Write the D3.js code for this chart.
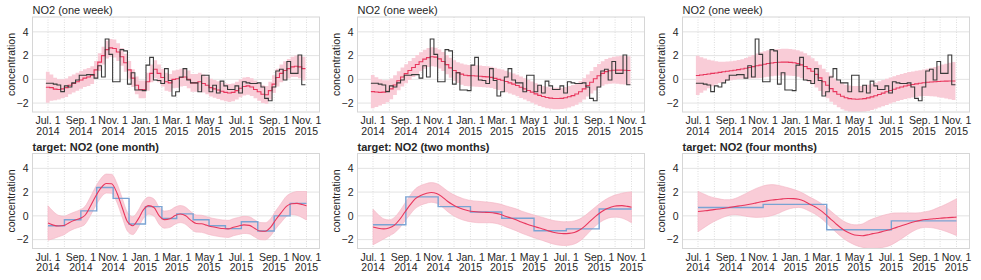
<!DOCTYPE html>
<html>
<head>
<meta charset="utf-8">
<script src="https://cdn.jsdelivr.net/npm/d3@7"></script>
<style>
  body { margin: 0; background: #fff; }
  svg { font-family: "Liberation Sans", Arial, sans-serif; display: block; }
</style>
</head>
<body>
<svg width="981" height="280"></svg>
<script>
const WIDTH = 981, HEIGHT = 280

// weekly observations (step plot, top row)
const weekStart = new Date(2014, 5, 27)
const weeklyNO2 = [
  -0.33, -0.33, -0.4, -0.47, -1.03, -0.55, -0.65, -0.3, -0.05, 0.35,
  0.35, 0.4, 0.4, 0.1, 1.15, 0.2, 3.4, 2.1, -0.2, -0.2,
  2.5, 2.4, -0.4, 0.55, -0.9, -0.9, -0.95, 1.2, 1.85, -0.05,
  -0.1, -0.35, 0.9, -0.1, -1.4, -1.05, 0.2, 0.9, -0.05, -0.3,
  -0.3, -1.05, 0.35, 0.35, -1.05, -0.5, -1.15, -0.15, -0.55, -0.85,
  -0.85, -0.55, -1.15, -0.2, -0.3, -0.35, -0.35, -0.3, -0.65, -1.6,
  -1.8, -0.65, 0.7, 0.85, -0.05, 1.5, 0.5, 0.5, 2.05, -0.45
]

// weekly model means and band half-widths (three length scales)
const weekFitShort = [
  -0.67, -0.7, -0.82, -0.85, -0.8, -0.7, -0.5, -0.35, -0.2, -0.05,
  0.1, 0.2, 0.35, 0.8, 1.45, 2.0, 2.5, 2.65, 2.6, 2.3,
  1.9, 1.4, 0.8, 0.1, -0.5, -0.85, -0.85, -0.2, 0.5, 0.85,
  0.5, 0.15, -0.2, -0.3, 0.0, 0.05, 0.15, 0.2, 0.0, -0.3,
  -0.3, -0.2, -0.35, -0.5, -0.7, -0.8, -0.9, -1.0, -1.1, -1.15,
  -1.1, -0.95, -0.75, -0.6, -0.55, -0.65, -0.85, -1.05, -1.25, -1.3,
  -0.95, -0.4, 0.15, 0.5, 0.75, 0.9, 1.05, 1.1, 1.05, 0.9
]
const weekBandShort = [
  1.3, 1.1, 0.95, 0.85, 0.8, 0.78, 0.76, 0.75, 0.75, 0.75,
  0.75, 0.75, 0.75, 0.75, 0.75, 0.75, 0.75, 0.75, 0.75, 0.75,
  0.75, 0.75, 0.75, 0.75, 0.75, 0.75, 0.75, 0.75, 0.75, 0.75,
  0.75, 0.75, 0.75, 0.75, 0.75, 0.75, 0.75, 0.75, 0.75, 0.75,
  0.75, 0.75, 0.75, 0.75, 0.75, 0.75, 0.75, 0.75, 0.75, 0.75,
  0.75, 0.75, 0.75, 0.75, 0.75, 0.75, 0.75, 0.75, 0.75, 0.75,
  0.75, 0.75, 0.75, 0.75, 0.78, 0.82, 0.86, 0.9, 0.95, 1.0
]
const weekFitMid = [
  -1.03, -1.07, -1.1, -1.08, -1.0, -0.8, -0.48, -0.12, 0.2, 0.48,
  0.75, 1.0, 1.25, 1.48, 1.7, 1.83, 1.9, 1.87, 1.72, 1.5,
  1.24, 0.97, 0.74, 0.57, 0.44, 0.35, 0.31, 0.3, 0.28, 0.26,
  0.23, 0.21, 0.17, 0.08, 0.0, -0.08, -0.18, -0.3, -0.4, -0.52,
  -0.67, -0.8, -0.94, -1.08, -1.22, -1.35, -1.45, -1.53, -1.58, -1.61,
  -1.61, -1.6, -1.55, -1.47, -1.37, -1.24, -1.05, -0.8, -0.52, -0.25,
  0.05, 0.3, 0.5, 0.65, 0.72, 0.77, 0.78, 0.78, 0.76, 0.75
]
const weekBandMid = [
  1.4, 1.25, 1.1, 1.0, 0.92, 0.87, 0.83, 0.8, 0.8, 0.8,
  0.8, 0.8, 0.8, 0.8, 0.8, 0.8, 0.8, 0.8, 0.8, 0.8,
  0.82, 0.84, 0.86, 0.88, 0.9, 0.9, 0.9, 0.9, 0.9, 0.9,
  0.9, 0.9, 0.9, 0.9, 0.9, 0.9, 0.9, 0.9, 0.9, 0.9,
  0.9, 0.9, 0.9, 0.9, 0.9, 0.9, 0.9, 0.9, 0.9, 0.9,
  0.9, 0.9, 0.9, 0.9, 0.9, 0.9, 0.9, 0.9, 0.92, 0.95,
  0.98, 1.0, 1.03, 1.06, 1.1, 1.13, 1.16, 1.2, 1.2, 1.2
]
const weekFitLong = [
  0.33, 0.37, 0.41, 0.45, 0.5, 0.54, 0.59, 0.64, 0.68, 0.72,
  0.77, 0.82, 0.87, 0.93, 1.0, 1.07, 1.14, 1.2, 1.27, 1.33,
  1.38, 1.42, 1.44, 1.45, 1.45, 1.43, 1.4, 1.33, 1.22, 1.08,
  0.9, 0.68, 0.42, 0.12, -0.2, -0.5, -0.78, -1.03, -1.25, -1.42,
  -1.55, -1.62, -1.66, -1.67, -1.66, -1.62, -1.56, -1.48, -1.38, -1.27,
  -1.16, -1.05, -0.94, -0.83, -0.73, -0.64, -0.56, -0.49, -0.43, -0.38,
  -0.33, -0.29, -0.25, -0.22, -0.2, -0.18, -0.16, -0.15, -0.14, -0.14
]
const weekBandLong = [
  1.65, 1.5, 1.35, 1.2, 1.08, 0.98, 0.9, 0.85, 0.82, 0.8,
  0.8, 0.8, 0.82, 0.86, 0.92, 0.98, 1.04, 1.08, 1.1, 1.12,
  1.12, 1.12, 1.12, 1.12, 1.12, 1.12, 1.12, 1.12, 1.12, 1.12,
  1.1, 1.1, 1.1, 1.1, 1.1, 1.1, 1.1, 1.1, 1.1, 1.1,
  1.1, 1.1, 1.1, 1.1, 1.1, 1.1, 1.1, 1.1, 1.1, 1.1,
  1.1, 1.1, 1.1, 1.1, 1.1, 1.1, 1.1, 1.1, 1.1, 1.1,
  1.1, 1.12, 1.15, 1.2, 1.25, 1.32, 1.4, 1.47, 1.54, 1.6
]

// aggregated targets (bottom row), starting Jul. 1 2014
const targetStart = new Date(2014, 6, 1)
const monthlyNO2 = [-0.83, -0.33, 0.42, 2.39, 1.47, -0.69, 0.78, -0.22, 0.17, -0.33, -0.83, -1.08, -0.5, -1.28, 0.0, 1.05]
const twoMonthNO2 = [-0.75, 1.6, 0.78, 0.33, -0.2, -1.25, -1.1, 0.58]
const fourMonthNO2 = [0.7, 0.97, -1.17, -0.42]

// smooth fits, read every 10 days from Jul. 1 2014 (last point Nov. 1 2015)
const fitOneMonth = [
  -0.6, -0.78, -0.86, -0.82, -0.58, -0.38, -0.22, 0.05, 0.8, 1.65,
  2.35, 2.72, 2.7, 1.95, 0.7, -0.5, -0.83, -0.3, 0.5, 0.86,
  0.7, 0.0, -0.32, -0.25, 0.02, 0.15, 0.0, -0.38, -0.65, -0.67,
  -0.8, -0.92, -1.0, -1.07, -1.1, -0.96, -0.85, -0.76, -0.8, -1.05,
  -1.28, -1.3, -0.98, -0.33, 0.25, 0.8, 1.02, 1.05, 0.95, 0.85
]
const bandOneMonth = [
  1.45, 1.15, 0.9, 0.78, 0.72, 0.7, 0.72, 0.75, 0.78, 0.8,
  0.8, 0.8, 0.8, 0.8, 0.8, 0.78, 0.75, 0.72, 0.72, 0.72,
  0.72, 0.72, 0.72, 0.72, 0.72, 0.72, 0.72, 0.72, 0.72, 0.72,
  0.72, 0.72, 0.72, 0.72, 0.72, 0.72, 0.72, 0.72, 0.72, 0.72,
  0.72, 0.72, 0.72, 0.75, 0.8, 0.85, 0.9, 1.0, 1.1, 1.2
]
const fitTwoMonths = [
  -0.94, -1.05, -1.1, -1.02, -0.8, -0.33, 0.3, 0.92, 1.45, 1.72,
  1.88, 1.97, 1.89, 1.62, 1.25, 0.95, 0.72, 0.55, 0.43, 0.36,
  0.32, 0.3, 0.28, 0.23, 0.13, -0.03, -0.18, -0.33, -0.52, -0.68,
  -0.83, -0.97, -1.1, -1.25, -1.38, -1.46, -1.5, -1.48, -1.4, -1.2,
  -0.87, -0.45, -0.05, 0.3, 0.57, 0.75, 0.84, 0.86, 0.8, 0.72
]
const bandTwoMonths = [
  1.5, 1.15, 0.85, 0.68, 0.65, 0.7, 0.75, 0.8, 0.82, 0.83,
  0.83, 0.83, 0.83, 0.84, 0.86, 0.88, 0.9, 0.9, 0.9, 0.9,
  0.9, 0.88, 0.86, 0.85, 0.86, 0.88, 0.9, 0.92, 0.93, 0.94,
  0.95, 0.96, 0.97, 0.98, 0.99, 1.0, 1.0, 0.99, 0.97, 0.93,
  0.88, 0.83, 0.8, 0.8, 0.83, 0.88, 0.95, 1.05, 1.18, 1.3
]
const fitFourMonths = [
  0.36, 0.41, 0.46, 0.52, 0.58, 0.64, 0.71, 0.78, 0.85, 0.92,
  1.0, 1.09, 1.18, 1.26, 1.33, 1.38, 1.43, 1.46, 1.45, 1.39,
  1.24, 1.0, 0.78, 0.5, 0.15, -0.25, -0.65, -1.02, -1.32, -1.52,
  -1.64, -1.67, -1.6, -1.5, -1.42, -1.3, -1.19, -1.04, -0.9, -0.75,
  -0.6, -0.48, -0.38, -0.31, -0.27, -0.22, -0.19, -0.16, -0.13, -0.11
]
const bandFourMonths = [
  1.7, 1.45, 1.2, 1.0, 0.85, 0.72, 0.65, 0.68, 0.8, 0.95,
  1.1, 1.22, 1.3, 1.33, 1.3, 1.2, 1.05, 0.9, 0.78, 0.68,
  0.62, 0.6, 0.6, 0.62, 0.65, 0.68, 0.7, 0.72, 0.75, 0.8,
  0.88, 0.98, 1.15, 1.25, 1.32, 1.35, 1.35, 1.28, 1.15, 1.0,
  0.85, 0.72, 0.65, 0.66, 0.72, 0.85, 1.0, 1.18, 1.38, 1.55
]
const fitDays = [
  0, 10, 20, 30, 40, 50, 60, 70, 80, 90, 100, 110, 120, 130, 140, 150, 160,
  170, 180, 190, 200, 210, 220, 230, 240, 250, 260, 270, 280, 290, 300, 310,
  320, 330, 340, 350, 360, 370, 380, 390, 400, 410, 420, 430, 440, 450, 460,
  470, 480, 488
]

// axis labels
const tickMonths = ['Jul. 1', 'Sep. 1', 'Nov. 1', 'Jan. 1', 'Mar. 1', 'May 1', 'Jul. 1', 'Sep. 1', 'Nov. 1']
const tickYears = ['2014', '2014', '2014', '2015', '2015', '2015', '2015', '2015', '2015']
const yTicks = [-2, 0, 2, 4]

const PLOT_W = 287, PLOT_H = 95
const colX = [32.5, 357.5, 682.5]
const rowY = [17, 153.5]
const RED = '#e8365d', PINK = '#f9ccd7', TEXT = '#262626'

const svg = d3.select('svg')
  .attr('viewBox', `0 0 ${WIDTH} ${HEIGHT}`)

const x = d3.scaleTime()
  .domain([new Date(2014, 6, 1), new Date(2015, 10, 1)])
  .range([15.5, 274])
const y = d3.scaleLinear()
  .domain([-2.75, 5.25])
  .range([PLOT_H, 0])

const tickDates = d3.timeMonth.every(2).range(new Date(2014, 6, 1), new Date(2015, 10, 2))
const gridDates = d3.timeMonth.range(new Date(2014, 6, 1), new Date(2015, 10, 2))

const weekDates = d3.range(weeklyNO2.length + 1).map(i => d3.timeDay.offset(weekStart, 7 * i))
const fitDates = fitDays.map(d => d3.timeDay.offset(targetStart, d))

// step series carry one extra point so the last value gets its own segment
const asStep = (dates, vals) => vals.map((v, i) => ({ date: dates[i], v }))
  .concat([{ date: dates[vals.length], v: vals[vals.length - 1] }])
const asBand = (dates, vals, half) => vals.map((v, i) => ({ date: dates[i], v, lo: v - half[i], hi: v + half[i] }))

const monthSteps = (vals, n) => asStep(d3.range(vals.length + 1).map(i => d3.timeMonth.offset(targetStart, n * i)), vals)

const weeklyStep = asStep(weekDates, weeklyNO2)
const weekBand = (fit, half) => asStep(weekDates, fit).map((d, i) => {
  const h = half[Math.min(i, half.length - 1)]
  return { date: d.date, v: d.v, lo: d.v - h, hi: d.v + h }
})

const panels = [
  { col: 0, row: 0, title: 'NO2 (one week)', obs: weeklyStep, obsColor: '#3a3a3a', fit: weekBand(weekFitShort, weekBandShort), stepFit: true },
  { col: 1, row: 0, title: 'NO2 (one week)', obs: weeklyStep, obsColor: '#3a3a3a', fit: weekBand(weekFitMid, weekBandMid), stepFit: true },
  { col: 2, row: 0, title: 'NO2 (one week)', obs: weeklyStep, obsColor: '#3a3a3a', fit: weekBand(weekFitLong, weekBandLong), stepFit: true },
  { col: 0, row: 1, title: 'target: NO2 (one month)', bold: true, obs: monthSteps(monthlyNO2, 1), obsColor: '#7aa3d3', fit: asBand(fitDates, fitOneMonth, bandOneMonth) },
  { col: 1, row: 1, title: 'target: NO2 (two months)', bold: true, obs: monthSteps(twoMonthNO2, 2), obsColor: '#7aa3d3', fit: asBand(fitDates, fitTwoMonths, bandTwoMonths) },
  { col: 2, row: 1, title: 'target: NO2 (four months)', bold: true, obs: monthSteps(fourMonthNO2, 4), obsColor: '#7aa3d3', fit: asBand(fitDates, fitFourMonths, bandFourMonths) }
]

svg.append('defs').append('clipPath')
  .attr('id', 'plot-clip')
  .append('rect')
  .attr('width', PLOT_W)
  .attr('height', PLOT_H)

panels.forEach(p => {
  const g = svg.append('g')
    .attr('transform', `translate(${colX[p.col]},${rowY[p.row]})`)

  g.append('rect')
    .attr('width', PLOT_W)
    .attr('height', PLOT_H)
    .attr('fill', '#fff')

  g.selectAll('.vgrid')
    .data(gridDates)
    .enter()
    .append('line')
    .attr('x1', d => x(d))
    .attr('x2', d => x(d))
    .attr('y1', 0)
    .attr('y2', PLOT_H)
    .attr('stroke', '#d4d4d4')
    .attr('stroke-width', 0.8)
    .attr('stroke-dasharray', '1,1.5')

  g.selectAll('.hgrid')
    .data(yTicks)
    .enter()
    .append('line')
    .attr('x1', 0)
    .attr('x2', PLOT_W)
    .attr('y1', d => y(d))
    .attr('y2', d => y(d))
    .attr('stroke', '#e0e0e0')
    .attr('stroke-width', 0.9)

  const curve = p.stepFit ? d3.curveStepAfter : d3.curveMonotoneX
  const inner = g.append('g').attr('clip-path', 'url(#plot-clip)')

  inner.append('path')
    .datum(p.fit)
    .attr('fill', PINK)
    .attr('stroke', p.stepFit ? 'none' : '#f3b3c3')
    .attr('stroke-width', 0.6)
    .attr('d', d3.area()
      .curve(curve)
      .x(d => x(d.date))
      .y0(d => y(d.lo))
      .y1(d => y(d.hi)))

  const obsLine = inner.append('path')
    .datum(p.obs)
    .attr('fill', 'none')
    .attr('stroke', p.obsColor)
    .attr('stroke-width', p.row === 0 ? 1.1 : 1.4)
    .attr('d', d3.line()
      .curve(d3.curveStepAfter)
      .x(d => x(d.date))
      .y(d => y(d.v)))

  inner.append('path')
    .datum(p.fit)
    .attr('fill', 'none')
    .attr('stroke', RED)
    .attr('stroke-width', 1.1)
    .attr('d', d3.line()
      .curve(curve)
      .x(d => x(d.date))
      .y(d => y(d.v)))

  // observed weekly line sits above the fit in the top row
  if (p.row === 0) obsLine.raise()

  g.append('rect')
    .attr('width', PLOT_W)
    .attr('height', PLOT_H)
    .attr('fill', 'none')
    .attr('stroke', '#d6d6d6')
    .attr('stroke-width', 1)

  g.selectAll('.ytick')
    .data(yTicks)
    .enter()
    .append('text')
    .attr('x', -4)
    .attr('y', d => y(d))
    .attr('dy', '0.35em')
    .attr('text-anchor', 'end')
    .attr('font-size', 10.5)
    .attr('fill', TEXT)
    .text(d => d < 0 ? '\u2212' + Math.abs(d) : d)

  const xt = g.selectAll('.xtick')
    .data(tickDates)
    .enter()
    .append('text')
    .attr('text-anchor', 'middle')
    .attr('font-size', 10.5)
    .attr('fill', TEXT)
  xt.append('tspan')
    .attr('x', d => x(d))
    .attr('y', PLOT_H + 12)
    .text((d, i) => tickMonths[i])
  xt.append('tspan')
    .attr('x', d => x(d))
    .attr('y', PLOT_H + 22.5)
    .text((d, i) => tickYears[i])

  g.append('text')
    .attr('transform', `translate(-17.8,${PLOT_H / 2}) rotate(-90)`)
    .attr('text-anchor', 'middle')
    .attr('font-size', 10.5)
    .attr('fill', TEXT)
    .text('concentration')

  g.append('text')
    .attr('x', 0)
    .attr('y', -3)
    .attr('font-size', 11)
    .attr('font-weight', p.bold ? 'bold' : 'normal')
    .attr('fill', TEXT)
    .text(p.title)
})
</script>
</body>
</html>
